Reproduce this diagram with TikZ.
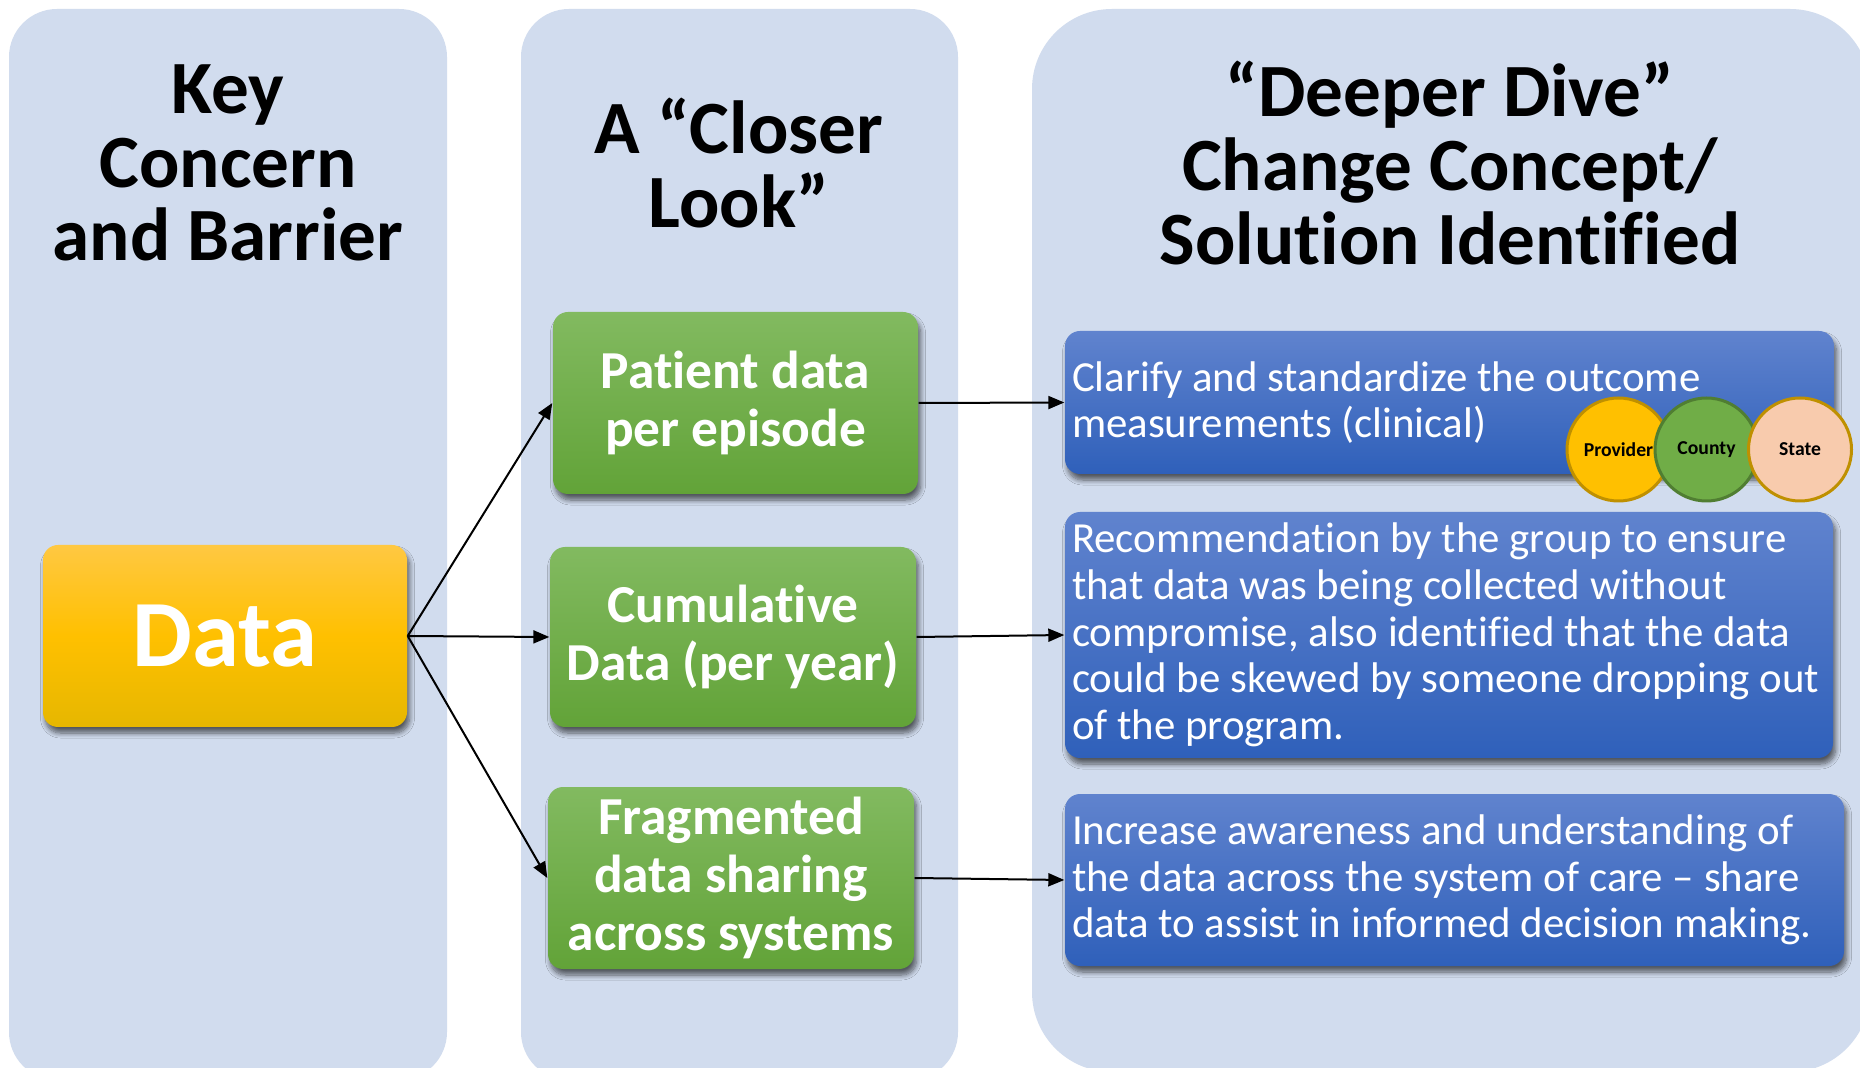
\documentclass[tikz,border=0pt]{standalone}
\usepackage{fontspec}
\setmainfont{Carlito}[Ligatures=NoCommon]
\usetikzlibrary{arrows.meta,shadows.blur}

\definecolor{paneblue}{RGB}{209,220,238}
\definecolor{dataTop}{RGB}{255,200,66}
\definecolor{dataMid}{RGB}{255,192,0}
\definecolor{dataBot}{RGB}{230,183,0}
\definecolor{greenTop}{RGB}{130,186,96}
\definecolor{greenBot}{RGB}{98,163,56}
\definecolor{blueTop}{RGB}{96,131,206}
\definecolor{blueBot}{RGB}{47,96,186}
\definecolor{provFill}{RGB}{255,192,0}
\definecolor{goldLine}{RGB}{191,144,0}
\definecolor{countyFill}{RGB}{112,173,71}
\definecolor{countyLine}{RGB}{80,126,50}
\definecolor{stateFill}{RGB}{248,203,173}

\begin{document}
\begin{tikzpicture}[x=0.1mm,y=-0.1mm,
	panel/.style={fill=paneblue},
	title/.style={align=flush center,font=\fontsize{21.4}{21}\selectfont\bfseries},
	box/.style={rounded corners=1.5mm,inner sep=0pt,
		blur shadow={shadow xshift=0.25mm,shadow yshift=-0.6mm,shadow blur radius=0.5mm,
			shadow blur steps=8,shadow opacity=60}},
	databox/.style={box,top color=dataTop,bottom color=dataBot,middle color=dataMid,
		text=white,font=\fontsize{27}{30}\selectfont\bfseries},
	greenbox/.style={box,top color=greenTop,bottom color=greenBot,
		text=white,align=flush center,font=\fontsize{15.2}{16.5}\selectfont\bfseries},
	bluebox/.style={box,top color=blueTop,bottom color=blueBot,inner xsep=0.7mm,
		text=white,align=flush left,font=\fontsize{12.2}{13.3}\selectfont},
	circ/.style={circle,minimum size=10.3mm,inner sep=0pt,line width=0.3mm,
		font=\fontsize{5.6}{6}\selectfont\bfseries},
	arr/.style={-{Triangle[length=1.6mm,width=1.3mm]},line width=0.2mm}]

	\useasboundingbox (0,0) rectangle (1860,1068);
	\clip (0,0) rectangle (1860,1068);
	\fill[white] (0,0) rectangle (1860,1068);

	\fill[panel,rounded corners=4.8mm] (9,9) rectangle (447,1080);
	\fill[panel,rounded corners=4.8mm] (521,9) rectangle (958,1080);
	\fill[panel,rounded corners=8mm] (1032,9) rectangle (1870,1072);

	\node[title] (t1) at (228,163) {Key\\Concern\\and Barrier};
	\node[title] (t2) at (739,163) {A “Closer\\Look”};
	\node[title] (t3) at (1450,163) {“Deeper Dive”\\Change Concept/\\Solution Identified};

	\node[databox,minimum width=36.4mm,minimum height=18.2mm] (data) at (225,636) {Data};

	\node[greenbox,minimum width=36.5mm,minimum height=18.2mm] (g1) at (735.5,403) {Patient data\\per episode};
	\node[greenbox,minimum width=36.6mm,minimum height=18mm] (g2) at (733,637) {Cumulative\\Data (per year)};
	\node[greenbox,minimum width=36.6mm,minimum height=18.2mm] (g3) at (731,878) {Fragmented\\data sharing\\across systems};

	\node[bluebox,minimum width=76.9mm,minimum height=14.3mm,text width=75.5mm] (b1) at (1449.5,402.5)
		{Clarify and standardize the outcome\\measurements (clinical)};
	\node[bluebox,minimum width=76.8mm,minimum height=24.6mm,text width=75.4mm] (b2) at (1449,635)
		{Recommendation by the group to ensure\\that data was being collected without\\compromise, also identified that the data\\could be skewed by someone dropping out\\of the program.};
	\node[bluebox,minimum width=77.9mm,minimum height=17.2mm,text width=76.5mm] (b3) at (1454.5,880)
		{Increase awareness and understanding of\\the data across the system of care – share\\data to assist in informed decision making.};

	\node[circ,fill=provFill,draw=goldLine] (prov) at (1618.5,449.5) {Provider};
	\node[circ,fill=countyFill,draw=countyLine] (county) at (1706.5,449.5) {County};
	\node[circ,fill=stateFill,draw=goldLine] (state) at (1800,449.5) {State};

	\draw[arr] (data.east) -- (g1.west);
	\draw[arr] (data.east) -- (g2.west);
	\draw[arr] (data.east) -- (g3.west);
	\draw[arr] (g1.east) -- (b1.west);
	\draw[arr] (g2.east) -- (b2.west);
	\draw[arr] (g3.east) -- (b3.west);
\end{tikzpicture}
\end{document}
